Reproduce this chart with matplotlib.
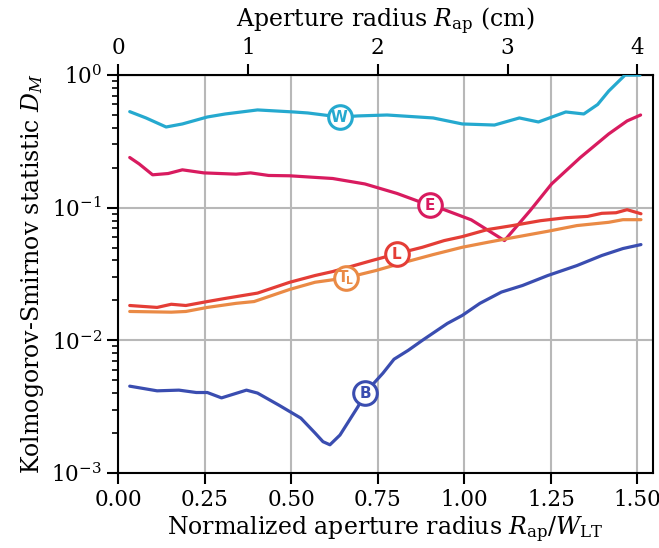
import numpy as np
import matplotlib
matplotlib.use("Agg")
import matplotlib.pyplot as plt

plt.rcParams['font.family'] = ['DejaVu Serif']
plt.rcParams['mathtext.fontset'] = 'dejavuserif'

W_LT = 4.0 / 1.5  # cm

# series: normalized radius, KS statistic
w_x = [0.034, 0.081, 0.139, 0.186, 0.258, 0.31, 0.403, 0.507, 0.548, 0.64, 0.693, 0.777,
       0.91, 0.994, 1.087, 1.159, 1.214, 1.293, 1.345, 1.385, 1.417, 1.464, 1.507]
w_y = [0.53, 0.475, 0.406, 0.428, 0.483, 0.509, 0.546, 0.527, 0.518, 0.483, 0.492, 0.50,
       0.475, 0.428, 0.42, 0.475, 0.443, 0.527, 0.509, 0.60, 0.758, 1.0, 1.0]

e_x = [0.034, 0.061, 0.10, 0.145, 0.186, 0.248, 0.341, 0.383, 0.435, 0.496, 0.62, 0.713,
       0.806, 0.90, 0.942, 1.02, 1.116, 1.19, 1.252, 1.335, 1.417, 1.47, 1.509]
e_y = [0.239, 0.214, 0.177, 0.181, 0.193, 0.183, 0.179, 0.183, 0.175, 0.174, 0.166, 0.151,
       0.128, 0.104, 0.0966, 0.081, 0.0565, 0.095, 0.151, 0.239, 0.36, 0.451, 0.50]

l_x = [0.034, 0.113, 0.154, 0.196, 0.258, 0.31, 0.403, 0.496, 0.569, 0.62, 0.672, 0.734,
       0.806, 0.879, 0.942, 0.994, 1.067, 1.139, 1.22, 1.293, 1.356, 1.397, 1.438, 1.47, 1.51]
l_y = [0.0183, 0.0177, 0.0187, 0.0183, 0.0196, 0.0207, 0.0227, 0.0274, 0.0308, 0.033, 0.036, 0.040,
       0.045, 0.0503, 0.0565, 0.0605, 0.0684, 0.0733, 0.0798, 0.084, 0.086, 0.0907, 0.0916, 0.0966, 0.090]

t_x = [0.034, 0.154, 0.196, 0.258, 0.341, 0.393, 0.496, 0.569, 0.657, 0.745, 0.828, 0.91,
       0.994, 1.067, 1.139, 1.241, 1.325, 1.417, 1.458, 1.51]
t_y = [0.0165, 0.0163, 0.0165, 0.0177, 0.019, 0.0196, 0.0242, 0.0274, 0.0295, 0.0336, 0.0388, 0.0443,
       0.0503, 0.0548, 0.0594, 0.0664, 0.0733, 0.0776, 0.0812, 0.0812]

b_x = [0.034, 0.113, 0.176, 0.226, 0.258, 0.299, 0.371, 0.403, 0.465, 0.528, 0.569, 0.592,
       0.612, 0.641, 0.693, 0.713, 0.765, 0.797, 0.838, 0.879, 0.951, 0.994, 1.045, 1.107, 1.168,
       1.241, 1.325, 1.397, 1.458, 1.51]
b_y = [0.00451, 0.00416, 0.00421, 0.00404, 0.00404, 0.00368, 0.00421, 0.0040, 0.00324, 0.00259,
       0.0020, 0.00172, 0.00163, 0.00193, 0.00316, 0.0040, 0.00565, 0.0072, 0.0084, 0.010, 0.0134,
       0.0154, 0.019, 0.0231, 0.0259, 0.0308, 0.0366, 0.0436, 0.0492, 0.0527]

series = [
    ("W", w_x, w_y, "#25a9cf", 0.64),
    ("E", e_x, e_y, "#d81b5f", 0.90),
    ("L", l_x, l_y, "#e43d36", 0.806),
    ("T", t_x, t_y, "#ea8a45", 0.657),
    ("B", b_x, b_y, "#3a4db0", 0.713),
]
labels = {"W": r"$\mathbf{W}$", "E": r"$\mathbf{E}$", "L": r"$\mathbf{L}$",
          "T": r"$\mathbf{T}_{\!\mathbf{L}}$", "B": r"$\mathbf{B}$"}

fig = plt.figure(figsize=(6.59, 5.48), dpi=100)
ax = fig.add_axes([0.179, 0.137, 0.812, 0.726])

for key, xs, ys, col, lx in series:
    ax.plot(xs, ys, color=col, lw=2.3, zorder=3, solid_capstyle='round', solid_joinstyle='round')
    ly = 10 ** np.interp(lx, xs, np.log10(ys))
    ax.plot([lx], [ly], 'o', ms=17, mfc='white', mec=col, mew=2.2, zorder=4)
    ax.text(lx, ly, labels[key], color=col, ha='center', va='center', fontsize=11,
            math_fontfamily='dejavusans', zorder=5)

ax.set_yscale('log')
ax.set_ylim(1e-3, 1)
ax.set_xlim(0, 1.545)
ax.set_xticks([0, 0.25, 0.5, 0.75, 1.0, 1.25, 1.5])
ax.xaxis.set_major_formatter(matplotlib.ticker.FormatStrFormatter('%.2f'))
ax.grid(True, which='major', color='#b8b8b8', lw=1.5)
ax.set_axisbelow(True)
for s in ax.spines.values():
    s.set_linewidth(1.5)
ax.tick_params(which='major', length=8, width=1.5, labelsize=15.5)
ax.tick_params(which='minor', length=4.5, width=1.2)
ax.set_xlabel(r"Normalized aperture radius $R_\mathrm{ap}/W_\mathrm{LT}$", fontsize=17, labelpad=3)
ax.set_ylabel(r"Kolmogorov-Smirnov statistic $D_M$", fontsize=17, labelpad=4)

sec = ax.secondary_xaxis('top', functions=(lambda x: x * W_LT, lambda x: x / W_LT))
sec.set_xticks([0, 1, 2, 3, 4])
sec.tick_params(which='major', length=8, width=1.5, labelsize=15.5)
sec.tick_params(which='minor', length=0)
sec.set_xlabel(r"Aperture radius $R_\mathrm{ap}$ (cm)", fontsize=17, labelpad=7)

fig.savefig("out.png", dpi=100)
